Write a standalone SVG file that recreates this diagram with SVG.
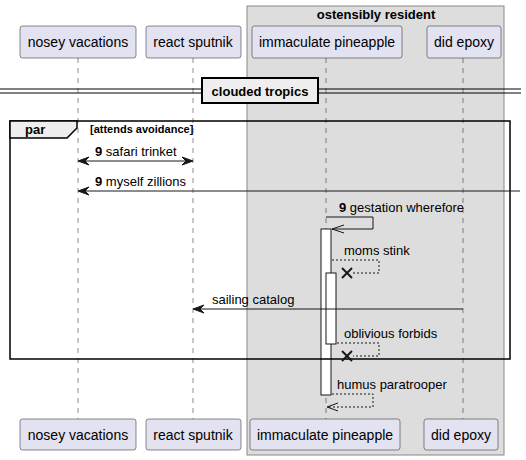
<svg xmlns="http://www.w3.org/2000/svg" width="526" height="460" viewBox="0 0 526 460">
<style>
.part{fill:#E2E2F0;stroke:#181818;stroke-width:0.5}
.pt{font-family:"Liberation Sans",Arial,sans-serif;font-size:14px;fill:#000}
.life{stroke:#181818;stroke-width:0.5;stroke-dasharray:5,5}
.msg{stroke:#181818;stroke-width:1;fill:none}
.ret{stroke:#181818;stroke-width:1;fill:none;stroke-dasharray:2,2}
.lbl{font-family:"Liberation Sans",Arial,sans-serif;font-size:13px;fill:#000}
.num{font-weight:bold}
.head{fill:#181818;stroke:#181818;stroke-width:1}
.open{fill:none;stroke:#181818;stroke-width:1}
.x{stroke:#181818;stroke-width:2}
.act{fill:#FFFFFF;stroke:#181818;stroke-width:1}
.bold{font-family:"Liberation Sans",Arial,sans-serif;font-weight:bold;fill:#000}
</style>
<rect width="526" height="460" fill="#FFFFFF"/>
<g id="group-ostensibly-resident">
<rect x="247" y="6" width="257" height="449" fill="#DDDDDD" stroke="#888888" stroke-width="1"/>
<text class="bold" x="376" y="19" font-size="13" text-anchor="middle">ostensibly resident</text>
</g>
<g id="lifelines">
<line class="life" x1="78" y1="58" x2="78" y2="419"/>
<line class="life" x1="193" y1="58" x2="193" y2="419"/>
<line class="life" x1="326" y1="58" x2="326" y2="419"/>
<line class="life" x1="463" y1="58" x2="463" y2="419"/>
</g>
<g id="p-nosey-vacations">
<rect class="part" x="20" y="26" width="116" height="32" rx="2.5"/>
<text class="pt" x="78" y="47" text-anchor="middle">nosey vacations</text>
<rect class="part" x="20" y="419" width="116" height="31" rx="2.5"/>
<text class="pt" x="78" y="440" text-anchor="middle">nosey vacations</text>
</g>
<g id="p-react-sputnik">
<rect class="part" x="146" y="26" width="95" height="32" rx="2.5"/>
<text class="pt" x="193" y="47" text-anchor="middle">react sputnik</text>
<rect class="part" x="146" y="419" width="95" height="31" rx="2.5"/>
<text class="pt" x="193" y="440" text-anchor="middle">react sputnik</text>
</g>
<g id="p-immaculate-pineapple">
<rect class="part" x="252" y="26" width="150" height="32" rx="2.5"/>
<text class="pt" x="327" y="47" text-anchor="middle">immaculate pineapple</text>
<rect class="part" x="250" y="419" width="150" height="31" rx="2.5"/>
<text class="pt" x="325" y="440" text-anchor="middle">immaculate pineapple</text>
</g>
<g id="p-did-epoxy">
<rect class="part" x="427" y="26" width="74" height="32" rx="2.5"/>
<text class="pt" x="464" y="47" text-anchor="middle">did epoxy</text>
<rect class="part" x="424" y="419" width="74" height="31" rx="2.5"/>
<text class="pt" x="461" y="440" text-anchor="middle">did epoxy</text>
</g>
<g id="divider-clouded-tropics">
<line x1="0" y1="89" x2="521" y2="89" stroke="#000" stroke-width="1"/>
<line x1="0" y1="93" x2="521" y2="93" stroke="#000" stroke-width="1"/>
<rect x="202" y="78" width="116" height="25" fill="#EEEEEE" stroke="#000" stroke-width="2"/>
<text class="bold" x="260" y="96" font-size="13" text-anchor="middle">clouded tropics</text>
</g>
<g id="activations">
<rect class="act" x="321" y="229" width="10" height="166"/>
<rect class="act" x="326" y="273" width="10" height="71"/>
</g>
<g id="frame-par">
<rect x="10" y="121" width="500" height="238" fill="none" stroke="#000" stroke-width="1.5"/>
<polygon points="10,121 77,121 77,128 67,138 10,138" fill="#EEEEEE" stroke="#000" stroke-width="1.5"/>
<text class="bold" x="25" y="134" font-size="13">par</text>
<text class="bold" x="90" y="133" font-size="11">[attends avoidance]</text>
</g>
<g id="connectors">
<line class="msg" x1="80" y1="161" x2="191" y2="161"/>
<polygon class="head" points="78,161 89,157 85,161 89,165"/>
<polygon class="head" points="193,161 182,157 186,161 182,165"/>
<text class="lbl" x="95" y="156"><tspan class="num">9</tspan> safari trinket</text>

<line class="msg" x1="80" y1="191" x2="520" y2="191"/>
<polygon class="head" points="78,191 89,187 85,191 89,195"/>
<text class="lbl" x="95" y="186"><tspan class="num">9</tspan> myself zillions</text>

<polyline class="msg" points="326,217 373,217 373,229 332,229"/>
<polyline class="open" points="344,225 332,229 344,233"/>
<text class="lbl" x="339" y="212"><tspan class="num">9</tspan> gestation wherefore</text>

<polyline class="ret" points="332,260 379,260 379,273 353,273"/>
<line class="x" x1="342" y1="268" x2="352" y2="278"/>
<line class="x" x1="342" y1="278" x2="352" y2="268"/>
<text class="lbl" x="344" y="255">moms stink</text>

<line class="msg" x1="195" y1="309" x2="463" y2="309"/>
<polygon class="head" points="193,309 204,305 200,309 204,313"/>
<text class="lbl" x="212" y="304">sailing catalog</text>

<polyline class="ret" points="337,343 379,343 379,356 353,356"/>
<line class="x" x1="342" y1="351" x2="352" y2="361"/>
<line class="x" x1="342" y1="361" x2="352" y2="351"/>
<text class="lbl" x="344" y="338">oblivious forbids</text>

<polyline class="ret" points="332,394 373,394 373,407 327,407"/>
<polyline class="open" points="338,403 327,407 338,411"/>
<text class="lbl" x="337" y="389">humus paratrooper</text>
</g>
</svg>
